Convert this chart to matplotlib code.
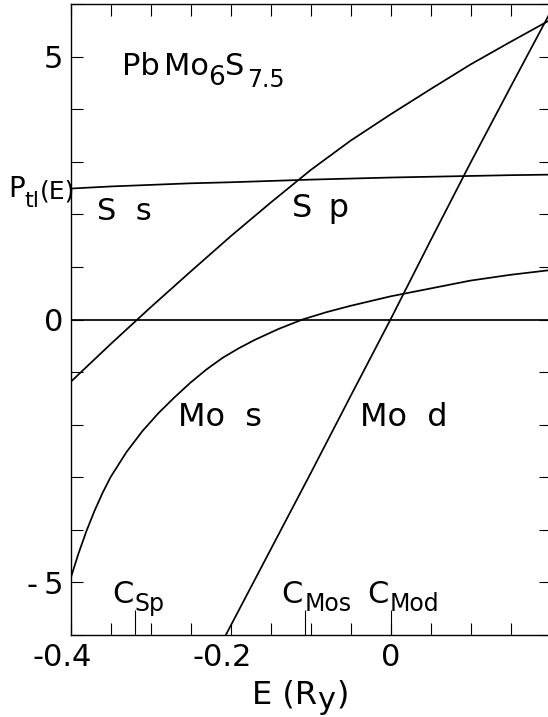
import numpy as np
import matplotlib
matplotlib.use('Agg')
import matplotlib.pyplot as plt
import matplotlib.transforms as mtransforms
from matplotlib.ticker import MultipleLocator

# Potential functions P_tl(E) for PbMo6S7.5, energies in Ry
ss_E = [-0.4, -0.35, -0.3, -0.25, -0.2, -0.15, -0.1, -0.05, 0.0, 0.05, 0.1, 0.15, 0.2]
ss_P = [2.49, 2.53, 2.56, 2.59, 2.61, 2.635, 2.66, 2.68, 2.70, 2.715, 2.73, 2.745, 2.755]

sp_E = [-0.4, -0.35, -0.3, -0.25, -0.2, -0.15, -0.1, -0.05, 0.0, 0.05, 0.1, 0.15, 0.2]
sp_P = [-1.19, -0.47, 0.23, 0.91, 1.58, 2.22, 2.84, 3.40, 3.90, 4.38, 4.85, 5.28, 5.70]

mos_E = [-0.4, -0.39, -0.38, -0.37, -0.36, -0.35, -0.33, -0.31, -0.29, -0.27, -0.25,
         -0.23, -0.21, -0.19, -0.17, -0.14, -0.11, -0.08, -0.05, 0.0, 0.05, 0.1, 0.15, 0.2]
mos_P = [-4.93, -4.45, -4.02, -3.64, -3.30, -3.00, -2.52, -2.12, -1.78, -1.48, -1.20,
         -0.95, -0.73, -0.55, -0.39, -0.18, 0.0, 0.14, 0.26, 0.44, 0.59, 0.74, 0.85, 0.94]

mod_E = [-0.21, -0.15, -0.1, -0.05, 0.0, 0.05, 0.1, 0.15, 0.2]
mod_P = [-6.12, -4.38, -2.93, -1.46, 0.0, 1.50, 2.98, 4.42, 5.85]

# band centres C (where P = 0)
c_pos = [-0.32, -0.107, 0.0]
c_names = ['Sp', 'Mos', 'Mod']

x_ticks = [-0.4, -0.2, 0.0]
x_ticklabels = ['-0.4', '-0.2', '0']
y_ticks = [-5, 0, 5]
y_ticklabels = ['-\u20095', '0', '5']

plt.rcParams['font.family'] = ['DejaVu Sans']

W, H = 548, 717
fig = plt.figure(figsize=(W / 100, H / 100), dpi=100)
ax = fig.add_axes([70.5 / W, (H - 635) / H, 480 / W, 631 / H])

lw = 1.25
ax.plot(ss_E, ss_P, color='black', lw=lw)
ax.plot(sp_E, sp_P, color='black', lw=lw)
ax.plot(mos_E, mos_P, color='black', lw=lw)
ax.plot(mod_E, mod_P, color='black', lw=lw)
ax.axhline(0, color='black', lw=lw)

ax.set_xlim(-0.4, 0.2)
ax.set_ylim(-6, 6)

ax.set_xticks(x_ticks, x_ticklabels)
ax.xaxis.set_minor_locator(MultipleLocator(0.05))
ax.set_yticks(y_ticks, y_ticklabels)
ax.yaxis.set_minor_locator(MultipleLocator(1))
ax.tick_params(which='both', direction='in', top=True, right=True,
               length=8.5, width=0.8, labelsize=22)
ax.tick_params(axis='x', pad=6)
ax.tick_params(axis='y', pad=5)
for sp in ax.spines.values():
    sp.set_linewidth(1.0)

# negative x labels: centre the number, let the minus sign hang left
shift = mtransforms.ScaledTranslation(-8 / 100, 0, fig.dpi_scale_trans)
for lbl in ax.get_xticklabels():
    if lbl.get_text().startswith('-'):
        lbl.set_transform(lbl.get_transform() + shift)

# long ticks marking the band centres
sec = ax.secondary_xaxis('bottom')
sec.set_xticks(c_pos)
sec.tick_params(direction='in', length=18, width=0.8, labelbottom=False)
sec.spines['bottom'].set_visible(False)


def chained_text(parts, x, y, transform):
    # parts: (text, fontsize, drop below baseline in pt, gap in pt)
    s, fs, drop, gap = parts[0]
    t = ax.text(x, y, s, fontsize=fs, transform=transform,
                va='baseline', ha='left')
    prev = drop
    for s, fs, drop, gap in parts[1:]:
        t = ax.annotate(s, xy=(1, 0), xycoords=t, xytext=(gap, prev - drop),
                        textcoords='offset points', fontsize=fs,
                        va='bottom', ha='left', annotation_clip=False)
        prev = drop
    return t


chained_text([('Pb', 22, 0, 0), ('Mo', 22, 0, 3), ('6', 19, 7, 0),
              ('S', 22, 0, 0), ('7.5', 17, 8, 2)], -0.336, 4.65, ax.transData)
chained_text([('S  s', 22, 0, 0)], -0.367, 1.886, ax.transData)
chained_text([('S \u2009p', 23, 0, 0)], -0.123, 1.94, ax.transData)
chained_text([('Mo  s', 23, 0, 0)], -0.266, -2.02, ax.transData)
chained_text([('Mo  d', 23, 0, 0)], -0.038, -2.02, ax.transData)

c_label_x = [-0.348, -0.136, -0.029]
for cx, name in zip(c_label_x, c_names):
    chained_text([('C', 22, 0, 0), (name, 17, 5, 1)], cx, -5.39, ax.transData)

chained_text([('P', 20, 0, 0), ('tl', 16, 6, 0), ('(E)', 18, 0, 0)],
             8 / W, 1 - 197 / H, fig.transFigure)
chained_text([('E (R', 23, 0, 0), ('y', 22, 3, 0), (')', 23, 0, 1)],
             252 / W, 13 / H, fig.transFigure)

fig.savefig('out.png', dpi=100)
